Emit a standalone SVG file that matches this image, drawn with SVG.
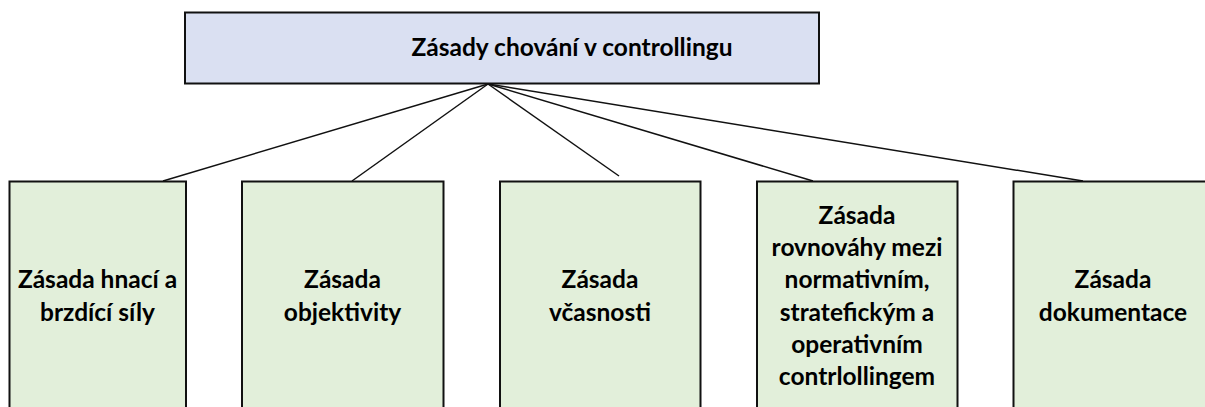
<svg xmlns="http://www.w3.org/2000/svg" width="1205" height="407" viewBox="0 0 1205 407">
<style>
.top{fill:#DAE0F2;stroke:#111;stroke-width:2}
.box{fill:#E2EFDA;stroke:#111;stroke-width:2}
.t{font-family:Lato,"Liberation Sans",sans-serif;font-weight:700;font-size:24.5px;fill:#000;text-anchor:middle}
.c{stroke:#111;stroke-width:1.5;fill:none}
</style>
<rect width="1205" height="407" fill="#fff"/>
<g id="connectors">
<line class="c" x1="488" y1="84" x2="163" y2="181"/>
<line class="c" x1="488" y1="84" x2="352" y2="181"/>
<line class="c" x1="488" y1="84" x2="619" y2="176"/>
<line class="c" x1="488" y1="84" x2="813" y2="181"/>
<line class="c" x1="488" y1="84" x2="1083" y2="181"/>
</g>
<g id="root">
<rect class="top" x="185" y="12.5" width="634" height="71"/>
<text class="t" x="572" y="56">Zásady chování v controllingu</text>
</g>
<g id="n1">
<rect class="box" x="9.5" y="181.5" width="176.5" height="240"/>
<text class="t" x="97.5" y="288">Zásada hnací a</text>
<text class="t" x="97.5" y="320.5">brzdící síly</text>
</g>
<g id="n2">
<rect class="box" x="242" y="181.5" width="201.5" height="240"/>
<text class="t" x="342.5" y="288">Zásada</text>
<text class="t" x="342.5" y="320.5">objektivity</text>
</g>
<g id="n3">
<rect class="box" x="500" y="181.5" width="200.5" height="240"/>
<text class="t" x="600" y="288">Zásada</text>
<text class="t" x="600" y="320.5">včasnosti</text>
</g>
<g id="n4">
<rect class="box" x="757" y="181.5" width="200.5" height="240"/>
<text class="t" x="857" y="223.5">Zásada</text>
<text class="t" x="857" y="255.8">rovnováhy mezi</text>
<text class="t" x="857" y="288.2">normativním,</text>
<text class="t" x="857" y="320.5">stratefickým a</text>
<text class="t" x="857" y="352.8">operativním</text>
<text class="t" x="857" y="385">contrlollingem</text>
</g>
<g id="n5">
<rect class="box" x="1013.5" y="181.5" width="200.5" height="240"/>
<text class="t" x="1113" y="288">Zásada</text>
<text class="t" x="1113" y="320.5">dokumentace</text>
</g>
</svg>
